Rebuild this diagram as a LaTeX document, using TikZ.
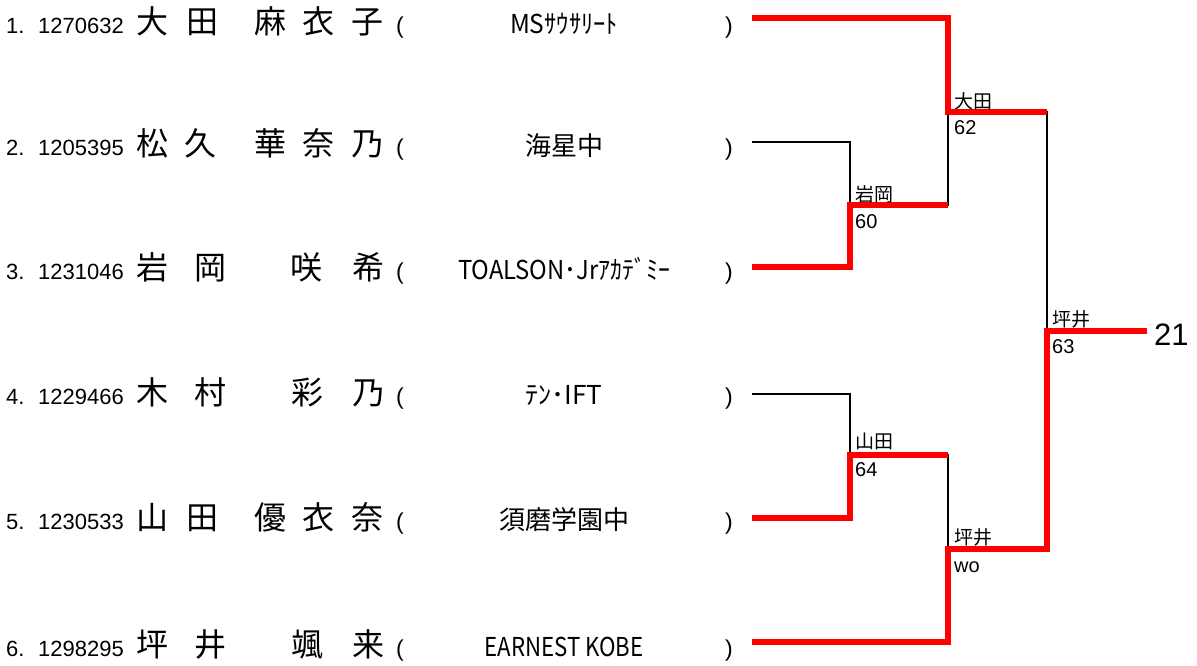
\documentclass[tikz,border=0pt]{standalone}
\usepackage{fontspec}
\usepackage{graphicx}
\setmainfont{Liberation Sans}
\newfontfamily\jp{Noto Sans CJK JP}
\tikzset{
  seed/.style={font=\fontsize{22}{26}\selectfont, anchor=base west, inner sep=0pt},
  namechar/.style={font=\jp\fontsize{32}{36}\selectfont, anchor=base, inner sep=0pt},
  paren/.style={font=\fontsize{23}{26}\selectfont, anchor=base, inner sep=0pt},
  club/.style={font=\jp\fontsize{26}{30}\selectfont, anchor=base, inner sep=0pt},
  winner/.style={font=\jp\fontsize{19}{22}\selectfont, anchor=base west, inner sep=0pt},
  score/.style={font=\fontsize{20}{24}\selectfont, anchor=base west, inner sep=0pt},
  result/.style={font=\fontsize{31}{35}\selectfont, anchor=base west, inner sep=0pt},
  losepath/.style={draw=black, line width=2pt},
  winpath/.style={draw=red, line width=6.5pt},
}
\newcommand{\clubbox}[2]{\resizebox{#1pt}{\height}{#2}}
\begin{document}
\begin{tikzpicture}[x=1pt,y=-1pt]
\useasboundingbox (0,0) rectangle (1197,665);
% ---- row 1
\node[seed] (n1) at (6,33) {1.};
\node[seed] (id1) at (38,33) {1270632};
\node[namechar] (c11) at (152,33) {大};
\node[namechar] (c12) at (202,33) {田};
\node[namechar] (c13) at (270,33) {麻};
\node[namechar] (c14) at (318,33) {衣};
\node[namechar] (c15) at (367,33) {子};
\node[paren] (l1) at (400,33) {(};
\node[club] (k1) at (564,33) {\clubbox{108}{MSｻｳｻﾘｰﾄ}};
\node[paren] (r1) at (729,33) {)};
% ---- row 2
\node[seed] (n2) at (6,155) {2.};
\node[seed] (id2) at (38,155) {1205395};
\node[namechar] (c21) at (152,155) {松};
\node[namechar] (c22) at (200,155) {久};
\node[namechar] (c23) at (270,155) {華};
\node[namechar] (c24) at (318,155) {奈};
\node[namechar] (c25) at (367,155) {乃};
\node[paren] (l2) at (400,155) {(};
\node[club] (k2) at (564,155) {\clubbox{78}{海星中}};
\node[paren] (r2) at (729,155) {)};
% ---- row 3
\node[seed] (n3) at (6,279) {3.};
\node[seed] (id3) at (38,279) {1231046};
\node[namechar] (c31) at (152,279) {岩};
\node[namechar] (c32) at (210,279) {岡};
\node[namechar] (c33) at (306,279) {咲};
\node[namechar] (c34) at (368,279) {希};
\node[paren] (l3) at (400,279) {(};
\node[club] (k3) at (564,279) {\clubbox{212}{TOALSON･Jrｱｶﾃﾞﾐｰ}};
\node[paren] (r3) at (729,279) {)};
% ---- row 4
\node[seed] (n4) at (6,404) {4.};
\node[seed] (id4) at (38,404) {1229466};
\node[namechar] (c41) at (152,404) {木};
\node[namechar] (c42) at (210,404) {村};
\node[namechar] (c43) at (307,404) {彩};
\node[namechar] (c44) at (368,404) {乃};
\node[paren] (l4) at (400,404) {(};
\node[club] (k4) at (564,404) {\clubbox{77}{ﾃﾝ･IFT}};
\node[paren] (r4) at (729,404) {)};
% ---- row 5
\node[seed] (n5) at (6,529) {5.};
\node[seed] (id5) at (38,529) {1230533};
\node[namechar] (c51) at (152,529) {山};
\node[namechar] (c52) at (202,529) {田};
\node[namechar] (c53) at (270,529) {優};
\node[namechar] (c54) at (318,529) {衣};
\node[namechar] (c55) at (367,529) {奈};
\node[paren] (l5) at (400,529) {(};
\node[club] (k5) at (564,529) {\clubbox{130}{須磨学園中}};
\node[paren] (r5) at (729,529) {)};
% ---- row 6
\node[seed] (n6) at (6,656) {6.};
\node[seed] (id6) at (38,656) {1298295};
\node[namechar] (c61) at (152,656) {坪};
\node[namechar] (c62) at (210,656) {井};
\node[namechar] (c63) at (307,656) {颯};
\node[namechar] (c64) at (368,656) {来};
\node[paren] (l6) at (400,656) {(};
\node[club] (k6) at (564,656) {\clubbox{159}{EARNEST KOBE}};
\node[paren] (r6) at (729,656) {)};
% ---- bracket coordinates
\coordinate (a1) at (752,18);
\coordinate (a2) at (752,142);
\coordinate (a3) at (752,267);
\coordinate (a4) at (752,394);
\coordinate (a5) at (752,518);
\coordinate (a6) at (752,642);
\coordinate (m23) at (850,205);
\coordinate (m45) at (850,455);
\coordinate (s1) at (948,112);
\coordinate (s2) at (948,549);
\coordinate (f) at (1047,331);
\coordinate (e) at (1147,331);
% ---- losing lines
\draw[losepath] (a2) -| (m23);
\draw[losepath] (m23) -| (s1);
\draw[losepath] (a4) -| (m45);
\draw[losepath] (m45) -| (s2);
\draw[losepath] (s1) -| (f);
% ---- winning lines
\draw[winpath] (a1) -| (s1) -- (s1 -| f);
\draw[winpath] (a3) -| (m23) -- (m23 -| s1);
\draw[winpath] (a5) -| (m45) -- (m45 -| s2);
\draw[winpath] (a6) -| (s2) -- (s2 -| f) -- (f) -- (e);
% ---- match labels
\node[winner] (w23) at (855,201) {岩岡};
\node[score] (sc23) at (855,228) {60};
\node[winner] (w45) at (855,448) {山田};
\node[score] (sc45) at (855,476) {64};
\node[winner] (w1) at (954,108) {大田};
\node[score] (sc1) at (954,134) {62};
\node[winner] (w2) at (954,544) {坪井};
\node[score] (sc2) at (954,572) {wo};
\node[winner] (wf) at (1052,326) {坪井};
\node[score] (scf) at (1052,353) {63};
\node[result] (res) at (1154,345) {21};
\end{tikzpicture}
\end{document}
